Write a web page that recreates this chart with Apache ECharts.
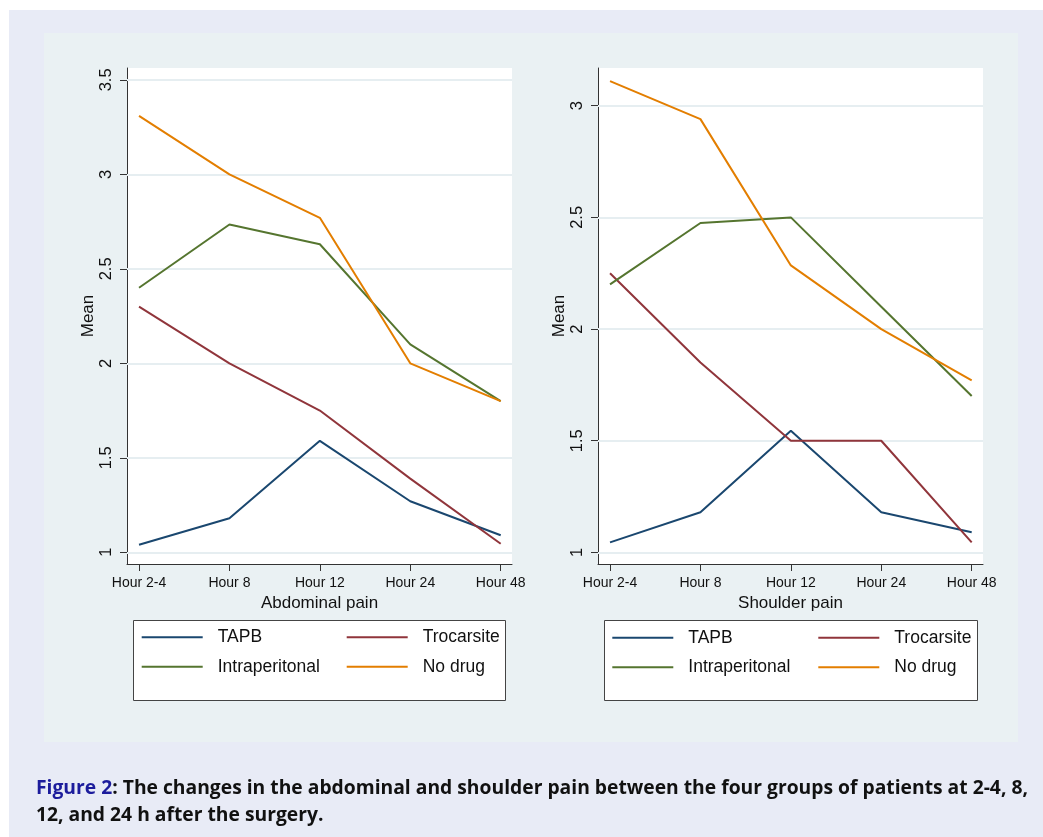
<!DOCTYPE html>
<html>
<head>
<meta charset="utf-8">
<script src="https://cdn.jsdelivr.net/npm/echarts@6/dist/echarts.min.js"></script>
<style>
html,body{margin:0;padding:0;background:#fff;}
#chart{width:1043px;height:837px;}
</style>
</head>
<body>
<div id="chart"></div>
<script>
// ---- data ----
const hours = ['Hour 2-4', 'Hour 8', 'Hour 12', 'Hour 24', 'Hour 48'];
const groups = ['TAPB', 'Trocarsite', 'Intraperitonal', 'No drug'];
const abdTAPB = [1.04, 1.18, 1.59, 1.27, 1.09];
const abdTrocarsite = [2.30, 2.00, 1.75, 1.39, 1.045];
const abdIntraperitonal = [2.40, 2.735, 2.63, 2.10, 1.80];
const abdNoDrug = [3.31, 3.00, 2.77, 2.00, 1.80];
const shTAPB = [1.045, 1.18, 1.545, 1.18, 1.09];
const shTrocarsite = [2.25, 1.85, 1.50, 1.50, 1.045];
const shIntraperitonal = [2.20, 2.475, 2.50, 2.10, 1.70];
const shNoDrug = [3.11, 2.94, 2.285, 2.00, 1.77];
const abdTicks = [1, 1.5, 2, 2.5, 3, 3.5];
const shTicks = [1, 1.5, 2, 2.5, 3];
const xTicks = [0, 1, 2, 3, 4];
const panelTitles = ['Abdominal pain', 'Shoulder pain'];

const colors = ['#1a476f', '#90353b', '#55752f', '#e37e00'];
const abdSeries = [abdTAPB, abdTrocarsite, abdIntraperitonal, abdNoDrug];
const shSeries = [shTAPB, shTrocarsite, shIntraperitonal, shNoDrug];

const axisColor = '#333';
const textColor = '#111';
const gridLineColor = '#e6eef1';

function xAxis(gi) {
  return {
    type: 'value', gridIndex: gi, min: -0.133, max: 4.125,
    name: panelTitles[gi], nameLocation: 'middle', nameGap: 26,
    nameTextStyle: {fontFamily: 'Liberation Sans', fontSize: 17, color: textColor, verticalAlign: 'top'},
    axisLine: {show: true, onZero: false, lineStyle: {color: axisColor, width: 1}},
    axisTick: {show: true, length: 7, customValues: xTicks, lineStyle: {color: axisColor}},
    axisLabel: {customValues: xTicks, formatter: v => hours[v], fontFamily: 'Liberation Sans', fontSize: 14, color: textColor, margin: 12},
    splitLine: {show: false}
  };
}
function yAxis(gi, min, max, ticks) {
  return {
    type: 'value', gridIndex: gi, min: min, max: max,
    name: 'Mean', nameLocation: 'middle', nameGap: 29,
    nameTextStyle: {fontFamily: 'Liberation Sans', fontSize: 17, color: textColor},
    axisLine: {show: true, onZero: false, lineStyle: {color: axisColor, width: 1}},
    axisTick: {show: true, length: 7, customValues: ticks, lineStyle: {color: axisColor}},
    axisLabel: {customValues: ticks, rotate: 90, fontFamily: 'Liberation Sans', fontSize: 16.5, color: textColor, margin: 12},
    splitLine: {show: false}
  };
}

const series = [];
[abdSeries, shSeries].forEach((set, gi) => {
  const ticks = gi === 0 ? abdTicks : shTicks;
  series.push({
    type: 'line', name: 'grid' + gi, xAxisIndex: gi, yAxisIndex: gi, data: [], z: 1, silent: true,
    markLine: {silent: true, symbol: 'none', label: {show: false}, animation: false, z: 1,
      lineStyle: {color: gridLineColor, width: 2, type: 'solid'},
      data: ticks.map(v => ({yAxis: v}))}
  });
  set.forEach((vals, si) => {
    series.push({
      type: 'line', name: groups[si], xAxisIndex: gi, yAxisIndex: gi, z: 3,
      data: vals.map((v, i) => [i, v]),
      symbol: 'none', lineStyle: {color: colors[si], width: 2}, itemStyle: {color: colors[si]}
    });
  });
});

function legend(left, top, names) {
  return {
    left: left, top: top, orient: 'vertical', padding: 0, itemGap: 9.4,
    itemWidth: 61, itemHeight: 2, icon: 'rect', selectedMode: false,
    data: names,
    textStyle: {fontFamily: 'Liberation Sans', fontSize: 17.5, color: textColor, lineHeight: 20, padding: [0, 0, 0, 10]}
  };
}

const chart = echarts.init(document.getElementById('chart'), null, {renderer: 'canvas'});
chart.setOption({
  animation: false,
  backgroundColor: '#fff',
  graphic: [
    {type: 'rect', z: -10, shape: {x: 9, y: 10, width: 1034, height: 827}, style: {fill: '#e8ebf6'}},
    {type: 'rect', z: -9, shape: {x: 44, y: 33, width: 974, height: 709}, style: {fill: '#eaf1f3'}},
    {type: 'rect', z: -8, shape: {x: 133.5, y: 620.5, width: 372, height: 80}, style: {fill: '#fff', stroke: '#444', lineWidth: 1}},
    {type: 'rect', z: -8, shape: {x: 604.5, y: 620.5, width: 373, height: 80}, style: {fill: '#fff', stroke: '#444', lineWidth: 1}},
    {type: 'text', left: 36, top: 775, style: {
      text: '{b|Figure 2}: The changes in the abdominal and shoulder pain between the four groups of patients at 2-4, 8,\n12, and 24 h after the surgery.',
      font: 'bold 19.3px "Open Sans"', fill: '#111', lineHeight: 27,
      rich: {b: {fill: '#1c1c9c', font: 'bold 19.3px "Open Sans"'}}
    }}
  ],
  grid: [
    {left: 127, top: 68, width: 385, height: 496, show: true, backgroundColor: '#fff', borderWidth: 0},
    {left: 598, top: 68, width: 385, height: 496, show: true, backgroundColor: '#fff', borderWidth: 0}
  ],
  xAxis: [xAxis(0), xAxis(1)],
  yAxis: [yAxis(0, 0.938, 3.563, abdTicks), yAxis(1, 0.948, 3.169, shTicks)],
  legend: [
    legend(141.7, 627.3, ['TAPB', 'Intraperitonal']),
    legend(346.7, 627.3, ['Trocarsite', 'No drug']),
    legend(612.3, 627.8, ['TAPB', 'Intraperitonal']),
    legend(818.3, 627.8, ['Trocarsite', 'No drug'])
  ],
  series: series
});
</script>
</body>
</html>
